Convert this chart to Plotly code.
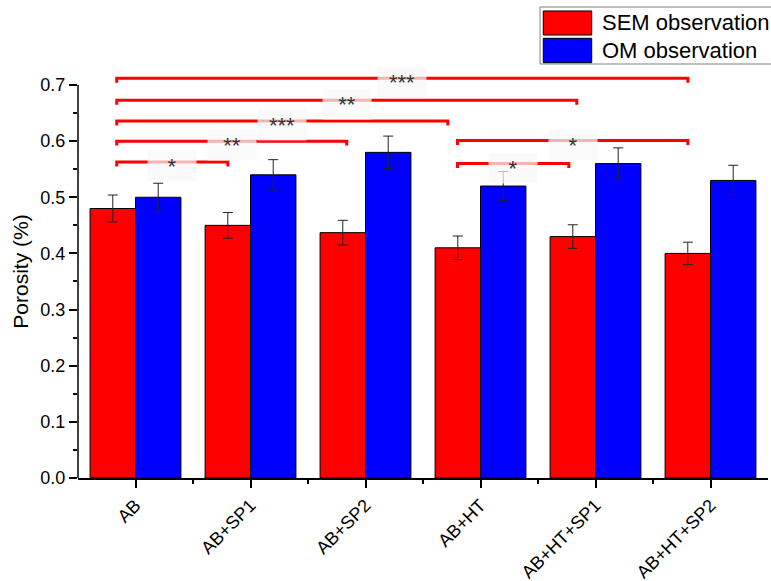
import plotly.graph_objects as go

# Sample groups and porosity measurements (%)
groups = ["AB", "AB+SP1", "AB+SP2", "AB+HT", "AB+HT+SP1", "AB+HT+SP2"]
sem_porosity = [0.480, 0.450, 0.437, 0.410, 0.430, 0.400]
sem_error = [0.024, 0.023, 0.022, 0.021, 0.021, 0.020]
om_porosity = [0.500, 0.540, 0.580, 0.520, 0.560, 0.530]
om_error = [0.025, 0.027, 0.029, 0.026, 0.028, 0.027]

# Significance brackets: start position, end position, height, label
bracket_start = [-0.163, -0.163, -0.163, -0.163, -0.163, 2.80, 2.80]
bracket_end = [0.803, 1.837, 2.716, 3.837, 4.803, 4.803, 3.768]
bracket_level = [0.563, 0.600, 0.636, 0.673, 0.712, 0.601, 0.560]
bracket_label = ["*", "**", "***", "**", "***", "*", "*"]

FONT = "Liberation Sans, Arial, sans-serif"
x_pos = list(range(len(groups)))

fig = go.Figure()
fig.add_trace(go.Bar(
    x=x_pos, y=sem_porosity, name="SEM observation",
    marker=dict(color="#ff0000", line=dict(color="#000000", width=1)),
    error_y=dict(type="data", array=sem_error, color="#222222",
                 thickness=1, width=5),
))
fig.add_trace(go.Bar(
    x=x_pos, y=om_porosity, name="OM observation",
    marker=dict(color="#0000ff", line=dict(color="#000000", width=1)),
    error_y=dict(type="data", array=om_error, color="#222222",
                 thickness=1, width=5),
))

# Brackets with short downward end ticks
tick_drop = 0.008
for x0, x1, lvl, lab in zip(bracket_start, bracket_end, bracket_level, bracket_label):
    fig.add_trace(go.Scatter(
        x=[x0, x0, x1, x1],
        y=[lvl - tick_drop, lvl, lvl, lvl - tick_drop],
        mode="lines", line=dict(color="#ff0000", width=3),
        hoverinfo="skip", showlegend=False,
    ))
    fig.add_annotation(
        x=(x0 + x1) / 2, y=lvl, xref="x", yref="y",
        text=lab, showarrow=False, yshift=-4,
        font=dict(family=FONT, size=22, color="#333333"),
        bgcolor="rgba(248,248,248,0.72)", width=44, height=26, borderpad=2,
        xanchor="center", yanchor="middle",
    )

# Left axis line drawn only up to the last major tick
fig.add_shape(type="line", xref="paper", yref="y", x0=0, x1=0, y0=0, y1=0.7,
              line=dict(color="#000000", width=1.5))

# Legend panel
fig.add_shape(type="rect", xref="paper", yref="paper",
              x0=0.6696, x1=1.02, y0=1.0024, y1=1.1404,
              line=dict(color="#808080", width=1), fillcolor="#ffffff")
legend_rows = [("SEM observation", "#ff0000", 1.1308, 1.0726, 1.1017),
               ("OM observation", "#0000ff", 1.0646, 1.0056, 1.0351)]
for label, color, top, bottom, mid in legend_rows:
    fig.add_shape(type="rect", xref="paper", yref="paper",
                  x0=0.6743, x1=0.7445, y0=bottom, y1=top,
                  line=dict(color="#000000", width=1), fillcolor=color)
    fig.add_annotation(x=0.7565, y=mid, xref="paper", yref="paper",
                       text=label, showarrow=False, xanchor="left",
                       yanchor="middle",
                       font=dict(family=FONT, size=22, color="#000000"))

fig.update_layout(
    width=771, height=581,
    margin=dict(l=78, r=3, t=65, b=103),
    paper_bgcolor="#ffffff", plot_bgcolor="#ffffff",
    barmode="group", bargap=0.21, bargroupgap=0,
    showlegend=False,
    font=dict(family=FONT, color="#000000"),
)
fig.update_xaxes(
    range=[-0.5, 5.5], tickvals=x_pos, ticktext=groups, tickangle=-45,
    automargin=False,
    showline=True, linecolor="#000000", linewidth=1.5,
    ticks="outside", ticklen=8, tickwidth=1.5, tickcolor="#000000",
    minor=dict(tickvals=[0.5, 1.5, 2.5, 3.5, 4.5], ticks="outside",
               ticklen=4, tickwidth=1.5, tickcolor="#000000"),
    showgrid=False, zeroline=False,
    tickfont=dict(family=FONT, size=18, color="#000000"),
)
fig.update_yaxes(
    range=[0, 0.7356], tick0=0, dtick=0.1, tickformat=".1f",
    automargin=False,
    showline=False,
    ticks="outside", ticklen=8, tickwidth=1.5, tickcolor="#000000",
    minor=dict(dtick=0.05, ticks="outside", ticklen=4, tickwidth=1.5,
               tickcolor="#000000"),
    showgrid=False, zeroline=False,
    tickfont=dict(family=FONT, size=18, color="#000000"),
    title=dict(text="Porosity (%)", standoff=6,
               font=dict(family=FONT, size=21, color="#000000")),
)

fig.write_html("out.html")
